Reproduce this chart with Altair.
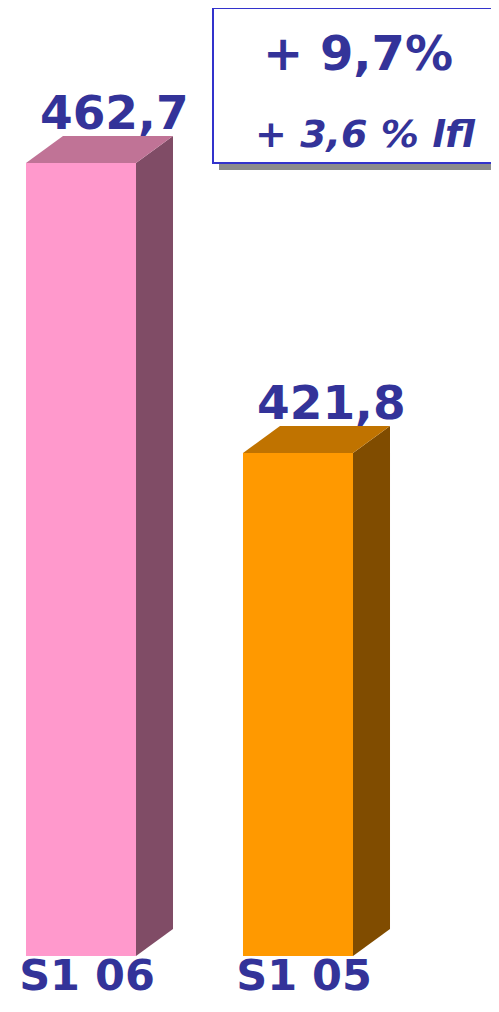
import altair as alt
import pandas as pd

# ---- data ----
categories = ["S1 06", "S1 05"]
values = [462.7, 421.8]
front_colors = ["#FF99CC", "#FF9900"]
top_colors = ["#C07396", "#C07300"]
side_colors = ["#804C66", "#804C00"]
headline = "+ 9,7%"
subline = "+ 3,6 % lfl"

# ---- styling constants (scale geometry) ----
W, H = 483, 992
X_DOMAIN = [-0.3364, 1.8894]
Y_DOMAIN = [344.65, 484.56]
FLOOR = 350.86          # value at which the bars stand
HW = 0.2535             # half width of bar front (index units)
DX = 0.1705             # 3D depth, x (index units)
DY = 3.81               # 3D depth, y (value units)
TXT = "#333399"
FONT = "DejaVu Sans"

idx = list(range(len(categories)))

bars = pd.DataFrame({
    "name": categories, "value": values, "i": idx,
    "front": front_colors, "topc": top_colors, "sidec": side_colors,
})
bars["x0"] = bars["i"] - HW
bars["x1"] = bars["i"] + HW
bars["floor"] = FLOOR

side_rows, top_rows = [], []
for r in bars.to_dict("records"):
    side_rows.append({"name": r["name"], "c": r["sidec"], "x": r["i"] + HW, "y": FLOOR, "y2": r["value"]})
    side_rows.append({"name": r["name"], "c": r["sidec"], "x": r["i"] + HW + DX, "y": FLOOR + DY, "y2": r["value"] + DY})
    top_rows.append({"name": r["name"], "c": r["topc"], "y": r["value"], "x": r["i"] - HW, "x2": r["i"] + HW})
    top_rows.append({"name": r["name"], "c": r["topc"], "y": r["value"] + DY, "x": r["i"] - HW + DX, "x2": r["i"] + HW + DX})
side_df = pd.DataFrame(side_rows)
top_df = pd.DataFrame(top_rows)

xs = alt.Scale(domain=X_DOMAIN, nice=False, zero=False)
ys = alt.Scale(domain=Y_DOMAIN, nice=False, zero=False)

front = alt.Chart(bars).mark_rect().encode(
    x=alt.X("x0:Q", scale=xs, axis=None),
    x2="x1:Q",
    y=alt.Y("floor:Q", scale=ys, axis=None),
    y2="value:Q",
    color=alt.Color("front:N", scale=None),
)

side = alt.Chart(side_df).mark_area(orient="vertical").encode(
    x=alt.X("x:Q", scale=xs, axis=None),
    y=alt.Y("y:Q", scale=ys, axis=None),
    y2="y2:Q",
    detail="name:N",
    color=alt.Color("c:N", scale=None),
)

top = alt.Chart(top_df).mark_area(orient="horizontal").encode(
    y=alt.Y("y:Q", scale=ys, axis=None),
    x=alt.X("x:Q", scale=xs, axis=None),
    x2="x2:Q",
    detail="name:N",
    color=alt.Color("c:N", scale=None),
)

labels = alt.Chart(bars).transform_calculate(
    lab="replace(format(datum.value, '.1f'), '.', ',')",
    ly=f"datum.value + {DY}",
    lx=f"datum.i + {DX * 0.9}",
).mark_text(
    font=FONT, fontWeight="bold", fontSize=47, color=TXT,
    baseline="alphabetic", align="center", dy=-7,
).encode(
    x=alt.X("lx:Q", scale=xs, axis=None),
    y=alt.Y("ly:Q", scale=ys, axis=None),
    text="lab:N",
)

cat_labels = alt.Chart(bars).mark_text(
    font=FONT, fontWeight="bold", fontSize=43, color=TXT,
    baseline="alphabetic", align="center", dx=6,
).encode(
    x=alt.X("i:Q", scale=xs, axis=None),
    y=alt.value(982),
    text="name:N",
)

# annotation box
box_df = pd.DataFrame({"k": [0]})
shadow = alt.Chart(box_df).mark_rect(color="#8C8C8C").encode(
    x=alt.value(211), x2=alt.value(500), y=alt.value(6), y2=alt.value(162),
)
box = alt.Chart(box_df).mark_rect(fill="white", stroke="#3333CC", strokeWidth=2).encode(
    x=alt.value(205), x2=alt.value(496), y=alt.value(0), y2=alt.value(155),
)
t1 = alt.Chart(pd.DataFrame({"t": [headline]})).mark_text(
    font=FONT, fontWeight="bold", fontSize=48, color=TXT, baseline="alphabetic", align="center",
).encode(x=alt.value(350), y=alt.value(62), text="t:N")
t2 = alt.Chart(pd.DataFrame({"t": [subline]})).mark_text(
    font=FONT, fontWeight="bold", fontStyle="italic", fontSize=38, color=TXT,
    baseline="alphabetic", align="center",
).encode(x=alt.value(357), y=alt.value(139), text="t:N")

chart = alt.layer(
    front, side, top, labels, cat_labels, shadow, box, t1, t2
).properties(
    width=W, height=H, padding=0, autosize="none",
).configure_view(stroke=None)

chart.save("out.html", embed_options={"renderer": "svg", "actions": False})
